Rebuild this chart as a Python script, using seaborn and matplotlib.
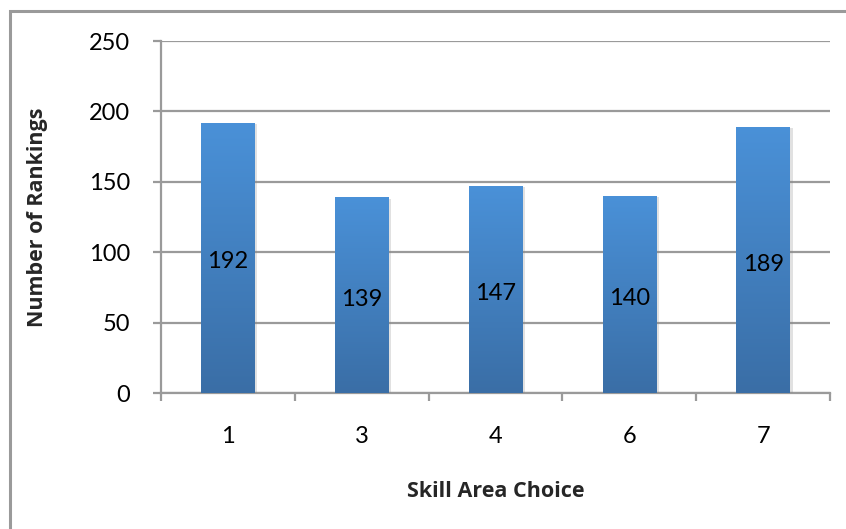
import numpy as np
import pandas as pd
import matplotlib
matplotlib.use("Agg")
import matplotlib.pyplot as plt
import matplotlib.patheffects as pe
from matplotlib.patches import Rectangle
from matplotlib.colors import LinearSegmentedColormap
import seaborn as sns

# Data
categories = ["1", "3", "4", "6", "7"]
rankings = [192, 139, 147, 140, 189]
y_ticks = [0, 50, 100, 150, 200, 250]

sns.set_theme(style="white")
plt.rcParams["font.family"] = ["Lato", "DejaVu Sans"]

GRID = "#9a9a9a"
TOP = "#4a91d8"
BOTTOM = "#3a6ea6"

fig = plt.figure(figsize=(8.46, 5.29), dpi=100)
W, H = 846, 529
ax = fig.add_axes([161 / W, 1 - 393 / H, (830 - 161) / W, (393 - 41) / H])

df = pd.DataFrame({"choice": categories, "count": rankings})
sns.barplot(data=df, x="choice", y="count", order=categories, color=TOP,
            width=0.40, ax=ax, zorder=3)

ax.set_xlim(-0.5, len(categories) - 0.5)
ax.set_ylim(0, 250)
ax.set_yticks(y_ticks)
ax.yaxis.grid(True, color=GRID, linewidth=1.6, zorder=0)
ax.set_axisbelow(True)

# gradient fill for each bar
cmap = LinearSegmentedColormap.from_list("barfill", [BOTTOM, TOP])
grad = np.linspace(0, 1, 256).reshape(-1, 1)
for p in ax.patches:
    x0, y0 = p.get_x(), p.get_y()
    w, h = p.get_width(), p.get_height()
    p.set_facecolor(TOP)
    p.set_edgecolor("none")
    p.set_path_effects([pe.SimplePatchShadow(offset=(2, -1), shadow_rgbFace="#888888", alpha=0.25), pe.Normal()])
    im = ax.imshow(grad, cmap=cmap, origin="lower", aspect="auto",
                   extent=(x0, x0 + w, y0, y0 + h), zorder=4)
    im.set_clip_path(p)

# value labels at bar middles
for i, v in enumerate(rankings):
    ax.annotate(str(v), xy=(i, v / 2), xytext=(0, -3), textcoords="offset points",
                ha="center", va="center", fontsize=17, color="black", zorder=5)

for side in ["top", "right"]:
    ax.spines[side].set_visible(False)
for side in ["left", "bottom"]:
    ax.spines[side].set_color(GRID)
    ax.spines[side].set_linewidth(1.6)

ax.tick_params(axis="y", which="major", direction="out", length=6, width=1.6,
               color=GRID, labelsize=17, pad=16, labelcolor="black", left=True)
ax.set_xticks(range(len(categories)))
ax.set_xticklabels(categories)
ax.set_xticks(np.arange(-0.5, len(categories), 1.0), minor=True)
ax.tick_params(axis="x", which="major", length=0, labelsize=17, pad=24,
               labelcolor="black")
ax.tick_params(axis="x", which="minor", direction="out", length=6, width=1.6,
               color=GRID, bottom=True)

label_font = dict(fontsize=15.5, fontweight="bold", family=["Open Sans", "DejaVu Sans"])
ax.set_xlabel("Skill Area Choice", labelpad=24, **label_font)
ax.set_ylabel("Number of Rankings", labelpad=30, **label_font)

# chart frame
fig.patches.append(Rectangle((10 / W, -0.1), 1.1, 1 - 11 / H + 0.1,
                             transform=fig.transFigure, fill=False,
                             edgecolor=GRID, linewidth=2.2))

fig.savefig("out.png", dpi=100)
